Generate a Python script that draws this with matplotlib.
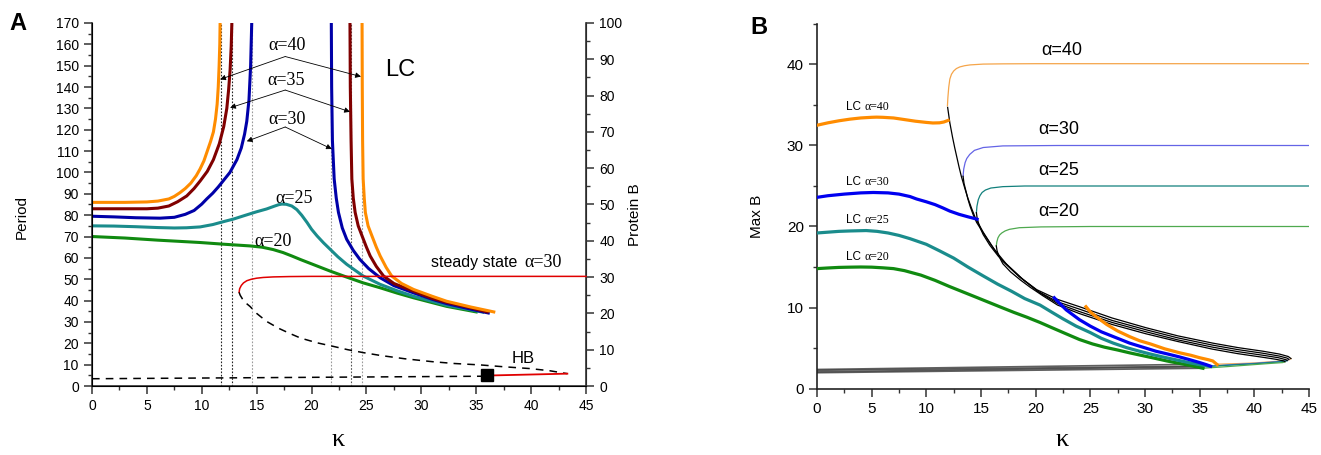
import numpy as np
import matplotlib.pyplot as plt
from matplotlib.ticker import MultipleLocator

SANS = 'Liberation Sans'
SERIF = 'Liberation Serif'
plt.rcParams['font.family'] = [SANS, 'DejaVu Sans']

# ---------------- Panel A : LC period vs kappa ----------------
# alpha = 40 (orange)
kA40_l = [0, 3, 5, 6, 7, 7.5, 8, 8.5, 9, 9.5, 9.85, 10.2, 10.5, 10.8, 11.06, 11.25,
          11.4, 11.5, 11.58, 11.64, 11.67]
pA40_l = [86, 86, 86.2, 86.6, 87.6, 88.8, 90.5, 92.5, 95, 98.5, 101.7, 105.5, 110, 114.5,
          119, 125, 132, 140, 150, 160, 170]
kA40_r = [24.6, 24.62, 24.65, 24.7, 24.8, 24.9, 25.15, 25.5, 25.9, 26.25, 26.8, 27.3,
          28.2, 29.3, 31, 32.3, 34.5, 36.6]
pA40_r = [170, 140, 115, 97, 88, 81.3, 75, 70.3, 65, 60.9, 55.5, 51.5, 48, 45.2, 42,
          39.7, 37.0, 34.7]
# alpha = 35 (maroon)
kA35_l = [0, 5, 6, 7, 7.8, 8.63, 9.3, 9.85, 10.5, 11.06, 11.6, 12.0, 12.28, 12.45,
          12.58, 12.68, 12.74]
pA35_l = [83, 83, 83.3, 84.3, 86.3, 89, 92.5, 96, 100.5, 106, 113.5, 121.5, 130, 139,
          148, 159, 170]
kA35_r = [23.5, 23.53, 23.6, 23.67, 23.8, 23.97, 24.25, 24.6, 25.0, 25.34, 25.9, 26.56,
          27.5, 29.3, 31, 32.3, 34.5, 36.0]
pA35_r = [170, 140, 115, 97, 88, 81.3, 75, 70.3, 65, 60.9, 56, 51.5, 48, 44.4, 41,
          39.2, 36.6, 34.7]
# alpha = 30 (blue)
kA30_l = [0, 2, 4, 6.2, 7.5, 8.5, 9.3, 10.0, 10.45, 11.0, 11.5, 12.0, 12.56, 13.2, 13.6,
          13.9, 14.1, 14.3, 14.45, 14.55]
pA30_l = [79.5, 79.2, 78.8, 78.6, 79, 80.4, 82.2, 85.2, 87.6, 90.3, 93.2, 96.4, 100, 106,
          111.5, 118, 124, 134, 150, 170]
kA30_r = [21.8, 21.83, 21.9, 22.06, 22.25, 22.45, 22.8, 23.2, 23.8, 24.4, 25.2, 26.25,
          27.5, 29.3, 31, 32.3, 34.5, 36.1]
pA30_r = [170, 140, 115, 97, 88, 81.3, 74, 68.7, 63.5, 59.3, 55, 50.7, 47, 43.6, 40.6,
          38.6, 36.0, 34.2]
# alpha = 25 (teal)
kA25 = [0, 2, 4, 6, 7.5, 8.6, 9.85, 11, 12, 12.9, 14, 15, 15.9, 16.6, 17.0, 17.3, 17.7,
        18.2, 18.66, 19.1, 19.6, 20.0, 20.5, 21.1, 21.7, 22.4, 23.2, 24.7, 26.25, 27.8,
        29.3, 32.3, 35.6]
pA25 = [75, 74.9, 74.6, 74.2, 74.0, 74.1, 74.5, 75.6, 77, 78.2, 80, 81.6, 82.9, 84.2,
        84.9, 85.2, 85.1, 84.3, 82.6, 80, 76.5, 73.4, 70.3, 67, 64, 60.5, 57, 51.5, 47.6,
        44.6, 42, 37.8, 34.6]
# alpha = 20 (green)
kA20 = [0, 3, 6, 9.85, 12, 14.4, 15.5, 16.5, 17.4, 18.2, 19, 19.8, 20.5, 21.7, 23.2,
        24.7, 26.25, 27.8, 29.3, 32.3, 35.0]
pA20 = [70, 69.3, 68.3, 67.2, 66.4, 65.6, 65, 63.9, 62.5, 60.9, 59.2, 57.6, 56.2, 53.8,
        51.0, 48.3, 46, 43.5, 41.3, 37.3, 34.7]

# steady state alpha = 30 (Protein B, right axis)
k_ss_up = [13.4, 13.45, 13.6, 13.8, 14.1, 14.5, 15.0, 15.6, 16.5, 18, 20, 45]
b_ss_up = [25.8, 26.8, 27.7, 28.4, 29.0, 29.4, 29.7, 29.9, 30.05, 30.15, 30.2, 30.2]
k_ss_mid = [13.4, 13.5, 13.7, 14.0, 14.4, 15.0, 15.9, 17, 18, 19, 20.5, 22, 23.3, 24.7,
            26.3, 28.5, 31, 33, 35.4, 37.5, 39.9, 41.7, 43.3]
b_ss_mid = [25.8, 25.0, 24.0, 22.9, 21.9, 20.0, 17.8, 15.9, 14.5, 13.2, 11.9, 10.9, 10.0,
            9.2, 8.4, 7.5, 6.7, 6.2, 5.8, 5.3, 4.8, 4.2, 3.4]
k_ss_low = [0, 36]
b_ss_low = [2.0, 2.7]
k_ss_low_stab = [36.3, 43.3]
b_ss_low_stab = [2.9, 3.4]
k_hb, b_hb = 36.0, 3.0

# homoclinic positions (vertical dotted lines)
k_vlines = [11.73, 12.79, 14.56, 21.79, 23.55, 24.64]
vline_cols = ['#222222', '#222222', '#999999', '#999999', '#555555', '#999999']

# ---------------- Panel B : max B vs kappa ----------------
# thick LC branches
kB40_a = [0, 1, 2, 3, 4, 5, 5.45, 6, 7, 8, 9, 10, 10.6, 11.2, 11.6, 12.0]
bB40_a = [32.5, 32.8, 33.05, 33.25, 33.4, 33.48, 33.5, 33.48, 33.4, 33.2, 33.0, 32.85,
          32.78, 32.8, 32.9, 33.1]
kB40_b = [24.6, 25.0, 25.5, 26.5, 27.5, 28.6, 29.5, 30.5, 31.8, 33.2, 34.2, 35, 35.8,
          36.2, 36.6]
bB40_b = [10.1, 9.45, 8.9, 7.9, 7.1, 6.4, 5.9, 5.5, 4.9, 4.4, 4.1, 3.8, 3.55, 3.4, 2.95]
kB30_a = [0, 1, 2.5, 4, 5.15, 6.5, 7.5, 8.5, 9.1, 10, 10.8, 11.5, 12.15, 13, 13.8, 14.64]
bB30_a = [23.6, 23.8, 24.0, 24.15, 24.2, 24.15, 24.0, 23.7, 23.4, 23.05, 22.7, 22.3,
          21.9, 21.5, 21.2, 20.9]
kB30_b = [21.7, 22.2, 22.8, 23.4, 24.0, 25, 26, 27.3, 28.6, 29.8, 31, 32.1, 33.15, 34.1,
          35, 35.6, 36.0]
bB30_b = [11.2, 10.5, 9.7, 9.1, 8.5, 7.7, 7.0, 6.3, 5.6, 5.1, 4.6, 4.25, 3.9, 3.55, 3.2,
          2.95, 2.75]
kB25 = [0, 1, 2, 3, 4.5, 5.5, 6.5, 7.5, 8.5, 10, 11.2, 12.5, 13.8, 15.2, 16.5, 17.8, 19,
        20.4, 21.5, 22.5, 23.7, 25, 26, 27.1, 28.3, 29.5, 30.5, 31.6, 32.8, 34, 35, 35.9]
bB25 = [19.2, 19.3, 19.4, 19.45, 19.5, 19.4, 19.2, 18.9, 18.5, 17.8, 17.0, 16.1, 15.0,
        13.9, 12.9, 12.0, 11.1, 10.3, 9.4, 8.6, 7.7, 6.9, 6.2, 5.6, 5.05, 4.6, 4.25, 3.9,
        3.55, 3.2, 2.95, 2.75]
kB20 = [0, 1, 2, 3, 4, 5, 6, 7, 8, 9.5, 10.8, 12.1, 13.3, 14.5, 15.6, 16.7, 18, 19.2,
        20.4, 21.5, 22.7, 24.0, 25.2, 26.3, 27.5, 28.6, 29.8, 31, 32, 33.15, 34.3, 35.3]
bB20 = [14.8, 14.88, 14.95, 14.98, 15.0, 14.98, 14.9, 14.8, 14.55, 14.0, 13.35, 12.6,
        11.95, 11.3, 10.7, 10.1, 9.4, 8.8, 8.15, 7.5, 6.8, 6.05, 5.5, 5.1, 4.75, 4.4, 4.05,
        3.7, 3.4, 3.1, 2.8, 2.5]

# thin steady-state upper branches
kS40 = [11.93, 11.97, 12.05, 12.15, 12.3, 12.5, 12.75, 13.06, 13.5, 14, 15.2, 17, 20, 45]
bS40 = [34.9, 35.9, 37.2, 38.2, 38.8, 39.2, 39.5, 39.7, 39.85, 39.95, 40.05, 40.08, 40.1, 40.1]
kS30 = [13.36, 13.42, 13.55, 13.7, 13.97, 14.4, 15.2, 17, 22, 45]
bS30 = [26.2, 27.1, 27.9, 28.4, 28.9, 29.4, 29.75, 29.95, 30.0, 30.0]
kS25 = [14.58, 14.63, 14.75, 14.9, 15.1, 15.4, 15.9, 17.0, 19, 24, 45]
bS25 = [21.7, 22.5, 23.3, 23.8, 24.2, 24.5, 24.75, 24.92, 25.0, 25.0, 25.0]
kS20 = [16.4, 16.45, 16.55, 16.7, 16.9, 17.2, 17.6, 18.5, 20.5, 25, 45]
bS20 = [17.6, 18.1, 18.6, 18.95, 19.2, 19.45, 19.65, 19.85, 19.95, 20.0, 20.0]

# black unstable branches
kU40 = [11.95, 12.15, 12.4, 12.6, 12.8, 13.0, 13.2, 13.5, 13.8, 14.15, 14.5, 15.2, 16,
        17, 18.5, 20.1, 22, 24, 27, 30.1, 33, 36.2, 38.5, 40.8, 42.3, 43.1, 43.35]
bU40 = [34.7, 32.8, 31, 29.7, 28.5, 27.3, 26.2, 24.8, 23.5, 22.2, 21, 19.3, 17.6, 15.7,
        13.8, 12.2, 11, 10.1, 8.7, 7.5, 6.5, 5.6, 5.05, 4.6, 4.25, 3.95, 3.7]
kU30 = [13.36, 13.45, 13.6, 13.8, 14.0, 14.3, 14.6, 15.3, 16.2, 17.3, 18.7, 20.2, 22, 24,
        27, 30.1, 33, 36.2, 38.5, 40.8, 42.3, 43.0, 43.15]
bU30 = [26.2, 25.3, 24.5, 23.4, 22.5, 21.4, 20.5, 19.0, 17.2, 15.4, 13.6, 12.0, 10.7,
        9.8, 8.4, 7.25, 6.25, 5.35, 4.8, 4.35, 4.0, 3.75, 3.6]
kU25 = [14.58, 14.65, 14.8, 15.0, 15.2, 15.8, 16.6, 17.6, 18.9, 20.4, 22, 24, 27, 30.1,
        33, 36.2, 38.5, 40.8, 42.2, 42.9, 43.0]
bU25 = [21.7, 21.0, 20.3, 19.6, 19.0, 17.7, 16.3, 15.0, 13.4, 11.8, 10.5, 9.5, 8.15, 7.0,
        6.0, 5.1, 4.55, 4.1, 3.8, 3.55, 3.45]
kU20 = [16.4, 16.47, 16.6, 16.8, 17.0, 17.7, 18.6, 19.5, 20.6, 22, 24, 27, 30.1, 33,
        36.2, 38.5, 40.8, 42.0, 42.7, 42.8]
bU20 = [17.6, 17.0, 16.5, 15.9, 15.4, 14.4, 13.4, 12.5, 11.5, 10.3, 9.25, 7.9, 6.75, 5.8,
        4.85, 4.3, 3.85, 3.6, 3.4, 3.3]

# thin lower return branches (turning point back to the thick ends)
kL40 = [43.35, 43.2, 42, 40, 38, 36.6]
bL40 = [3.7, 3.55, 3.35, 3.15, 3.05, 3.0]
kL30 = [43.15, 43.0, 42, 40, 38, 36.0]
bL30 = [3.6, 3.45, 3.3, 3.1, 2.95, 2.75]
kL25 = [43.0, 42.8, 42, 40, 38, 35.9]
bL25 = [3.45, 3.35, 3.25, 3.05, 2.9, 2.75]
kL20 = [42.8, 42.6, 41.5, 39.5, 37.5, 35.3]
bL20 = [3.3, 3.2, 3.1, 2.9, 2.7, 2.5]

# grey low steady states
kG = [0, 35.3]
bG_list = [[1.95, 2.5], [2.05, 2.7], [2.25, 2.75], [2.35, 3.0]]

# ---------------- colours ----------------
ORANGE = '#ff8c00'
MAROON = '#800000'
NAVY = '#0000a8'
TEAL = '#1a8c8c'
GREEN = '#108a10'
BLUE_B = '#0000f0'

fig = plt.figure(figsize=(13.21, 4.55), dpi=100)

# ================= Panel A =================
ax = fig.add_axes([92 / 1321, 1 - 386 / 455, 494 / 1321, 363 / 455])
ax2 = ax.twinx()

for k, c in zip(k_vlines, vline_cols):
    ax.plot([k, k], [0, 170], ls=(0, (1.5, 1.5)), lw=0.8, color=c, zorder=1)

ax.plot(kA20, pA20, color=GREEN, lw=2.2, zorder=3)
ax.plot(kA25, pA25, color=TEAL, lw=2.2, zorder=3)
ax.plot(kA30_l, pA30_l, color=NAVY, lw=2.2, zorder=3)
ax.plot(kA30_r, pA30_r, color=NAVY, lw=2.2, zorder=3)
ax.plot(kA35_l, pA35_l, color=MAROON, lw=2.2, zorder=3)
ax.plot(kA35_r, pA35_r, color=MAROON, lw=2.2, zorder=3)
ax.plot(kA40_l, pA40_l, color=ORANGE, lw=2.2, zorder=3)
ax.plot(kA40_r, pA40_r, color=ORANGE, lw=2.2, zorder=3)

ax.set_xlim(0, 45)
ax.set_ylim(0, 170)
ax.xaxis.set_major_locator(MultipleLocator(5))
ax.xaxis.set_minor_locator(MultipleLocator(2.5))
ax.yaxis.set_major_locator(MultipleLocator(10))
ax.yaxis.set_minor_locator(MultipleLocator(5))
ax.spines['top'].set_visible(False)
for s in ['left', 'bottom']:
    ax.spines[s].set_linewidth(1.2)
    ax.spines[s].set_color('#333333')
ax.tick_params(which='major', direction='out', length=6, width=1.1, labelsize=10, colors='#333333')
ax.tick_params(which='minor', direction='out', length=3, width=1.0, colors='#333333')
ax.tick_params(axis='both', labelcolor='black')

ax.set_ylabel('Period', fontsize=11)
ax.yaxis.label.set_va('center')
ax.yaxis.set_label_coords(-0.142, 0.466)
ax.set_xlabel('κ', fontsize=19, family=SERIF)
ax.xaxis.label.set_va('center')
ax.xaxis.set_label_coords(0.498, (386 - 440) / 363)

# arrows from the alpha labels to the curves
arrow_kw = dict(arrowstyle='-|>', lw=0.6, color='black', mutation_scale=8,
                shrinkA=0, shrinkB=0)
ann = [('α=40', (17.8, 159.5), (17.6, 154.3), [(11.67, 143.6), (24.5, 144.9)]),
       ('α=35', (17.7, 143.0), (17.6, 138.6), [(12.58, 130.3), (23.5, 128.4)]),
       ('α=30', (17.8, 125.0), (17.6, 121.3), [(14.1, 114.6), (21.85, 111.0)])]
for txt, tpos, origin, targets in ann:
    ax.text(tpos[0], tpos[1], txt, family=SERIF, fontsize=13, ha='center', va='center')
    for tgt in targets:
        ax.annotate('', xy=tgt, xytext=origin, arrowprops=arrow_kw)
ax.text(18.4, 87.6, 'α=25', family=SERIF, fontsize=13, ha='center', va='center')
ax.text(16.45, 67.9, 'α=20', family=SERIF, fontsize=13, ha='center', va='center')
ax.text(28.1, 148, 'LC', fontsize=17, ha='center', va='center')

# steady state on the Protein B axis
ax2.plot(k_ss_up, b_ss_up, color='#e00000', lw=1.1, zorder=4, clip_on=False)
ax2.plot(k_ss_mid, b_ss_mid, color='black', lw=1.1, ls=(0, (5, 4)), zorder=4)
ax2.plot(k_ss_low, b_ss_low, color='black', lw=1.1, ls=(0, (5, 4)), zorder=4)
ax2.plot(k_ss_low_stab, b_ss_low_stab, color='#e00000', lw=1.3, zorder=4)
ax2.plot([k_hb], [b_hb], marker='s', ms=8, color='black', zorder=5)
ax2.set_ylim(0, 100)
ax2.yaxis.set_major_locator(MultipleLocator(10))
ax2.yaxis.set_minor_locator(MultipleLocator(5))
ax2.spines['top'].set_visible(False)
ax2.spines['right'].set_linewidth(1.2)
ax2.spines['right'].set_color('#333333')
ax2.tick_params(which='major', direction='out', length=6, width=1.1, labelsize=10, colors='#333333')
ax2.tick_params(which='minor', direction='out', length=3, width=1.0, colors='#333333')
ax2.tick_params(axis='y', labelcolor='black')
ax2.set_ylabel('Protein B', fontsize=11)
ax2.yaxis.label.set_va('center')
ax2.yaxis.set_label_coords(1.099, 0.471)

ax2.text(39.2, 34, 'steady state ', fontsize=11.5, ha='right', va='center')
ax2.text(39.4, 34, 'α=30', family=SERIF, fontsize=13, ha='left', va='center')
ax2.text(39.3, 7.7, 'HB', fontsize=12, ha='center', va='center')

fig.text(18 / 1321, 1 - 23.5 / 455, 'A', fontsize=17, fontweight='bold', ha='center', va='center')

# ================= Panel B =================
bx = fig.add_axes([817 / 1321, 1 - 388.5 / 455, 492 / 1321, 364.5 / 455])

for bg in bG_list:
    bx.plot(kG, bg, color='#444444', lw=1.2, alpha=0.85, zorder=2)

bx.plot(kS40, bS40, color='#f5a54a', lw=0.9, zorder=2)
bx.plot(kS30, bS30, color='#6464e6', lw=0.9, zorder=2)
bx.plot(kS25, bS25, color='#12807c', lw=0.9, zorder=2)
bx.plot(kS20, bS20, color='#4fa94f', lw=0.9, zorder=2)

bx.plot(kL40, bL40, color='#f5a54a', lw=0.9, zorder=2)
bx.plot(kL30, bL30, color='#4a6ae6', lw=0.9, zorder=2)
bx.plot(kL25, bL25, color='#12807c', lw=0.9, zorder=2)
bx.plot(kL20, bL20, color='#4fa94f', lw=0.9, zorder=2)

for ku, bu in [(kU40, bU40), (kU30, bU30), (kU25, bU25), (kU20, bU20)]:
    bx.plot(ku, bu, color='black', lw=0.9, zorder=3)

bx.plot(kB20, bB20, color=GREEN, lw=2.3, zorder=4)
bx.plot(kB25, bB25, color=TEAL, lw=2.3, zorder=4)
bx.plot(kB30_a, bB30_a, color=BLUE_B, lw=2.3, zorder=4)
bx.plot(kB30_b, bB30_b, color=BLUE_B, lw=2.3, zorder=4)
bx.plot(kB40_a, bB40_a, color=ORANGE, lw=2.3, zorder=4)
bx.plot(kB40_b, bB40_b, color=ORANGE, lw=2.3, zorder=4)

bx.set_xlim(0, 45)
bx.set_ylim(0, 45)
bx.xaxis.set_major_locator(MultipleLocator(5))
bx.xaxis.set_minor_locator(MultipleLocator(2.5))
bx.yaxis.set_major_locator(MultipleLocator(10))
bx.yaxis.set_minor_locator(MultipleLocator(5))
bx.spines['top'].set_visible(False)
bx.spines['right'].set_visible(False)
for s in ['left', 'bottom']:
    bx.spines[s].set_linewidth(1.2)
    bx.spines[s].set_color('#222222')
bx.tick_params(which='major', direction='out', length=6, width=1.1, labelsize=11, colors='#333333')
bx.tick_params(which='minor', direction='out', length=3, width=1.0, colors='#333333')
bx.tick_params(axis='both', labelcolor='black')

bx.set_ylabel('Max B', fontsize=11)
bx.yaxis.label.set_va('center')
bx.yaxis.set_label_coords((757 - 817) / 492, 0.473)
bx.set_xlabel('κ', fontsize=19, family=SERIF)
bx.xaxis.label.set_va('center')
bx.xaxis.set_label_coords((1062 - 817) / 492, (388.5 - 440) / 364.5)

# LC labels
lc_labels = [('α=40', 34.7), ('α=30', 25.5), ('α=25', 20.75), ('α=20', 16.2)]
for txt, yv in lc_labels:
    bx.text(4.05, yv, 'LC', fontsize=8.5, ha='right', va='center')
    bx.text(4.35, yv, txt, family=SERIF, fontsize=8.5, ha='left', va='center')

# steady-state labels
ss_labels = [('α=40', 20.5, 41.7), ('α=30', 20.2, 32.0), ('α=25', 20.2, 26.9), ('α=20', 20.2, 21.8)]
for txt, xv, yv in ss_labels:
    bx.text(xv, yv, txt, fontsize=13, ha='left', va='center')

fig.text(759 / 1321, 1 - 27.5 / 455, 'B', fontsize=17, fontweight='bold', ha='center', va='center')

plt.savefig('out.png', dpi=100)
